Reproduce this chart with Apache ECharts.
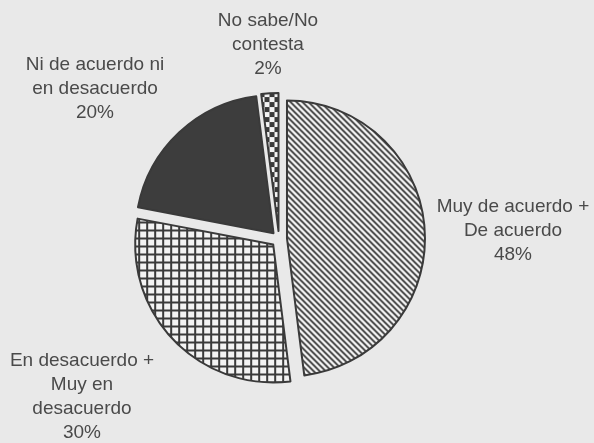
<!DOCTYPE html>
<html>
<head>
<meta charset="utf-8">
<script src="https://cdn.jsdelivr.net/npm/echarts@6/dist/echarts.min.js"></script>
<style>
  html, body { margin: 0; padding: 0; background: #e9e9e9; }
  #pie { width: 594px; height: 443px; }
</style>
</head>
<body>
<div id="pie"></div>
<script>
// datos (porcentajes)
var categorias = [
  'Muy de acuerdo +\nDe acuerdo',
  'En desacuerdo +\nMuy en\ndesacuerdo',
  'Ni de acuerdo ni\nen desacuerdo',
  'No sabe/No\ncontesta'
];
var porcentajes = [48, 30, 20, 2];

// centro horizontal y borde superior de cada rótulo
var posRotulos = [[513, 195], [82, 349], [95, 53], [268, 9]];

var tinta = '#3a3a3a';
var papel = '#f3f3f3';

// tramas tipo "rayado" para imitar el impreso
function trama(size, dibujar) {
  var c = document.createElement('canvas');
  c.width = size;
  c.height = size;
  var ctx = c.getContext('2d');
  ctx.fillStyle = papel;
  ctx.fillRect(0, 0, size, size);
  ctx.strokeStyle = tinta;
  ctx.fillStyle = tinta;
  dibujar(ctx, size);
  return { image: c, repeat: 'repeat' };
}

var diagonal = trama(6, function (ctx, s) {
  ctx.lineWidth = 1.8;
  ctx.beginPath();
  ctx.moveTo(-1, -1); ctx.lineTo(s + 1, s + 1);
  ctx.moveTo(-1, s - 1); ctx.lineTo(1, s + 1);
  ctx.moveTo(s - 1, -1); ctx.lineTo(s + 1, 1);
  ctx.stroke();
});
var cuadricula = trama(8, function (ctx, s) {
  ctx.fillRect(0, 0, s, 2);
  ctx.fillRect(0, 0, 2, s);
});
var ajedrez = trama(10, function (ctx, s) {
  ctx.fillRect(0, 0, s / 2, s / 2);
  ctx.fillRect(s / 2, s / 2, s / 2, s / 2);
});
var rellenos = [diagonal, cuadricula, '#3d3d3d', ajedrez];

var datos = categorias.map(function (n, i) {
  return {
    name: n,
    value: porcentajes[i],
    selected: true,
    itemStyle: { color: rellenos[i] },
    select: { itemStyle: { color: rellenos[i], borderColor: tinta, borderWidth: 2 } }
  };
});

// rótulos como títulos sueltos (texto centrado, varias líneas)
var rotulos = categorias.map(function (n, i) {
  return {
    text: n + '\n' + porcentajes[i] + '%',
    left: posRotulos[i][0],
    top: posRotulos[i][1],
    textAlign: 'center',
    padding: 0,
    textStyle: {
      fontFamily: 'Liberation Sans, Arial, sans-serif',
      fontSize: 19,
      fontWeight: 'normal',
      lineHeight: 24,
      color: '#4a4a4a'
    }
  };
});

var myChart = echarts.init(document.getElementById('pie'));
var option = {
  backgroundColor: '#e9e9e9',
  animation: false,
  title: rotulos,
  series: [
    {
      type: 'pie',
      center: [279, 239],
      radius: 138,
      startAngle: 90,
      clockwise: true,
      selectedMode: 'multiple',
      selectedOffset: 8,
      silent: true,
      itemStyle: { borderColor: tinta, borderWidth: 2 },
      label: { show: false },
      labelLine: { show: false },
      emphasis: { disabled: true },
      data: datos
    }
  ]
};
myChart.setOption(option);
</script>
</body>
</html>
